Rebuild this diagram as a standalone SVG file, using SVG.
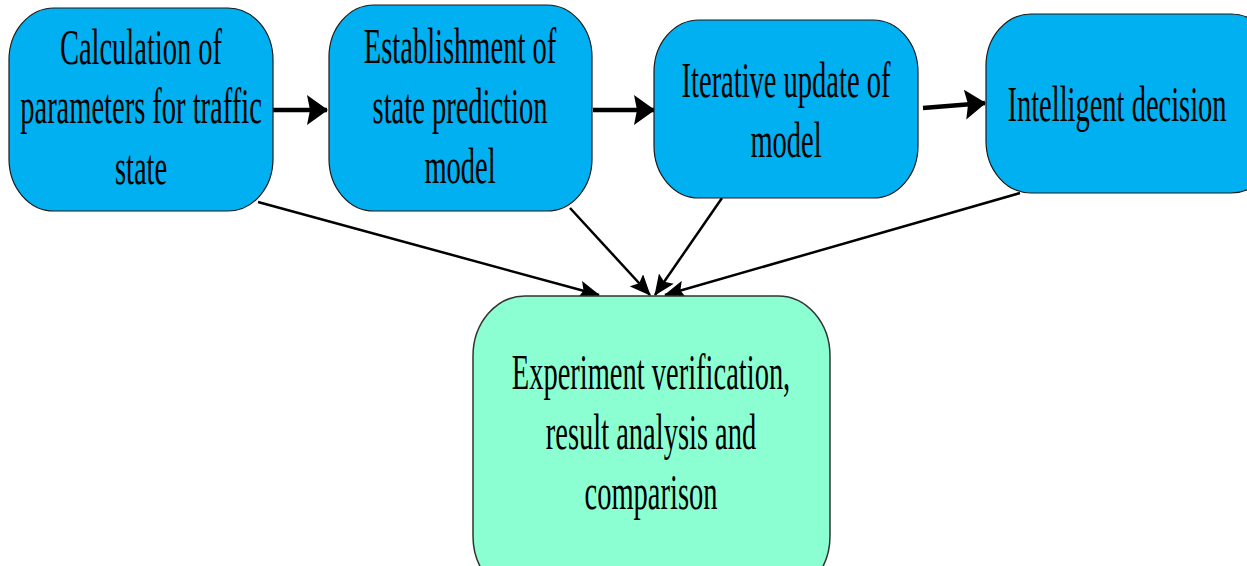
<svg xmlns="http://www.w3.org/2000/svg" width="1247" height="566" viewBox="0 0 1247 566">
<style>
.blue{fill:#00B0F0;stroke:#1a1a1a;stroke-width:1.2}
.green{fill:#8CFFD2;stroke:#333;stroke-width:1.5}
.t{font-family:"Liberation Serif","Times New Roman",serif;font-size:50px;fill:#000;text-anchor:middle}
.thick{stroke:#000;stroke-width:4.5;fill:none}
.thin{stroke:#000;stroke-width:2.5;fill:none}
</style>
<defs>
<marker id="big" markerUnits="userSpaceOnUse" markerWidth="22" markerHeight="30" refX="20" refY="15" orient="auto">
<path d="M0,0 L21,15 L0,30 L3,15 Z" fill="#000"/>
</marker>
<marker id="small" markerUnits="userSpaceOnUse" markerWidth="21" markerHeight="18" refX="20" refY="9" orient="auto">
<path d="M0,0 L21,9 L0,18 L4,9 Z" fill="#000"/>
</marker>
</defs>
<rect width="1247" height="566" fill="#fff"/>
<g id="connectors">
<line class="thick" x1="273" y1="110" x2="327" y2="110" marker-end="url(#big)"/>
<line class="thick" x1="593" y1="110" x2="654" y2="110" marker-end="url(#big)"/>
<line class="thick" x1="923" y1="108" x2="985" y2="103" marker-end="url(#big)"/>
<line class="thin" x1="258" y1="202" x2="599" y2="295" marker-end="url(#small)"/>
<line class="thin" x1="570" y1="208" x2="650" y2="295" marker-end="url(#small)"/>
<line class="thin" x1="722" y1="198" x2="655" y2="295" marker-end="url(#small)"/>
<line class="thin" x1="1020" y1="193" x2="665" y2="295" marker-end="url(#small)"/>
</g>
<g id="n1">
<rect class="blue" x="9" y="8" width="264" height="203" rx="45" ry="52"/>
<text class="t" transform="translate(141 0) scale(0.57 1)"><tspan x="0" y="64">Calculation of</tspan><tspan x="0" y="123">parameters for traffic</tspan><tspan x="0" y="184">state</tspan></text>
</g>
<g id="n2">
<rect class="blue" x="329" y="5" width="263" height="206" rx="45" ry="52"/>
<text class="t" transform="translate(460 0) scale(0.57 1)"><tspan x="0" y="63">Establishment of</tspan><tspan x="0" y="123">state prediction</tspan><tspan x="0" y="183">model</tspan></text>
</g>
<g id="n3">
<rect class="blue" x="654" y="20" width="264" height="178" rx="45" ry="52"/>
<text class="t" transform="translate(786 0) scale(0.57 1)"><tspan x="0" y="97">Iterative update of</tspan><tspan x="0" y="157">model</tspan></text>
</g>
<g id="n4">
<rect class="blue" x="986" y="14" width="290" height="179" rx="45" ry="52"/>
<text class="t" transform="translate(1117 0) scale(0.57 1)"><tspan x="0" y="121">Intelligent decision</tspan></text>
</g>
<g id="n5">
<rect class="green" x="473" y="296" width="357" height="300" rx="52" ry="60"/>
<text class="t" transform="translate(651 0) scale(0.57 1)"><tspan x="0" y="389">Experiment verification,</tspan><tspan x="0" y="449">result analysis and</tspan><tspan x="0" y="509">comparison</tspan></text>
</g>
</svg>
